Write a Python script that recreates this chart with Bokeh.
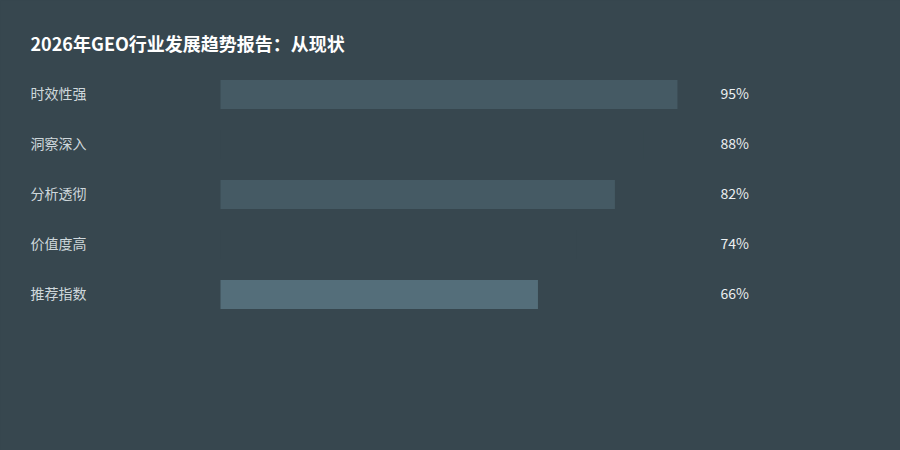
from bokeh.plotting import figure
from bokeh.models import ColumnDataSource, Range1d, Label
from bokeh.embed import file_html
from bokeh.resources import INLINE
from bokeh.core.properties import value

# ---- data ----
title_text = "2026年GEO行业发展趋势报告：从现状"
categories = ["时效性强", "洞察深入", "分析透彻", "价值度高", "推荐指数"]
values = [95, 88, 82, 74, 66]
value_labels = [f"{v}%" for v in values]
bar_colors = ["#455A64", "#37474F", "#455A64", "#37474F", "#546E7A"]

# ---- layout (page pixels) ----
BG = "#37474F"
FONT = "Noto Sans CJK SC"
W, H = 900, 450
M = 0
X0_PX, X100_PX = 220, 701
K = (X100_PX - X0_PX) / 100.0
ROW0, ROW_STEP = 94, 50


def dx(px):
    return (px - X0_PX) / K


def dy(py):
    return (py - ROW0) / ROW_STEP


x_start = dx(M)
x_end = dx(M + W)
y_top = dy(M)
y_bottom = dy(M + H)

p = figure(width=W, height=H, output_backend="svg", toolbar_location=None,
           x_range=Range1d(x_start, x_end), y_range=Range1d(y_bottom, y_top),
           x_axis_location=None, y_axis_location=None, min_border=0,
           background_fill_color=BG, border_fill_color=BG)
p.outline_line_color = None
p.grid.visible = False

idx = list(range(len(categories)))
src = ColumnDataSource(dict(idx=idx, cat=categories, val=values,
                            lab=value_labels, color=bar_colors,
                            lx=[dx(30)] * len(idx), vx=[dx(720)] * len(idx)))

p.hbar(y="idx", left=0, right="val", height=0.58, fill_color="color",
       line_color=None, source=src)

p.text(x="lx", y="idx", text="cat", source=src, text_font=value(FONT),
       text_font_size="14px", text_color="#CFD8DC", text_baseline="middle",
       text_align="left", y_offset=-2)
p.text(x="vx", y="idx", text="lab", source=src, text_font=value(FONT),
       text_font_size="14px", text_color="#ECEFF1", text_baseline="middle",
       text_align="left", y_offset=-2)

p.add_layout(Label(x=dx(30), y=dy(44), text=title_text, text_font=FONT,
                   text_font_size="18px", text_font_style="bold",
                   text_color="#FFFFFF", text_baseline="middle",
                   text_align="left", y_offset=2))

html = file_html(p, INLINE)
html = html.replace("</head>", "<style>html,body{background:%s;margin:0;overflow:hidden;}</style></head>" % BG, 1)
open("out.html", "w").write(html)
